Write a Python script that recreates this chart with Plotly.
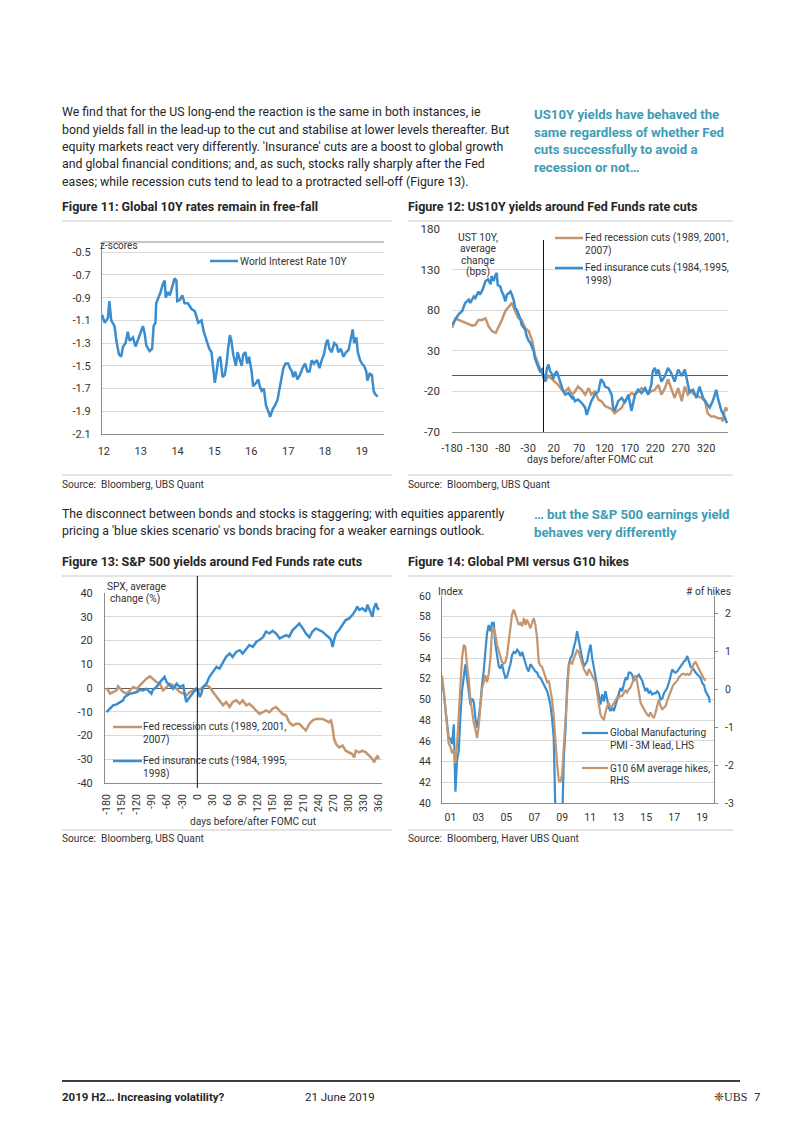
import plotly.graph_objects as go

W, H = 802, 1133
OFF = 8  # page body margin in the rendered html


def X(p):
    return (p - OFF) / W


def Y(p):
    return 1 - (p - OFF) / H


FONT = "Roboto, Liberation Sans, sans-serif"
BLUE = "#3A8DCF"
BROWN = "#C39670"
TEAL = "#3E9CB6"
TXT = "#262626"
TICK = "#333333"
GRID = "#D9D9D9"
AXIS = "#8C8C8C"
ZERO = "#5A5A5A"

# ---------------- Figure 11 data: World Interest Rate 10Y (z-scores) ----------------
f11_year = [2011.95, 2012.02, 2012.11, 2012.15, 2012.20, 2012.29, 2012.34, 2012.41, 2012.47, 2012.52,
            2012.59, 2012.65, 2012.70, 2012.79, 2012.86, 2012.92, 2013.02, 2013.06, 2013.11, 2013.15,
            2013.24, 2013.31, 2013.35, 2013.40, 2013.42, 2013.49, 2013.54, 2013.60, 2013.65, 2013.68,
            2013.74, 2013.79, 2013.88, 2013.92, 2013.97, 2013.99, 2014.06, 2014.13, 2014.19, 2014.28,
            2014.38, 2014.47, 2014.56, 2014.65, 2014.71, 2014.78, 2014.86, 2014.92, 2014.96, 2015.01,
            2015.06, 2015.10, 2015.16, 2015.22, 2015.28, 2015.33, 2015.37, 2015.42, 2015.46, 2015.51,
            2015.58, 2015.63, 2015.69, 2015.74, 2015.78, 2015.84, 2015.89, 2015.94, 2016.01, 2016.05,
            2016.13, 2016.19, 2016.23, 2016.28, 2016.34, 2016.40, 2016.46, 2016.51, 2016.58, 2016.64,
            2016.71, 2016.76, 2016.82, 2016.87, 2016.93, 2017.00, 2017.05, 2017.10, 2017.14, 2017.19,
            2017.25, 2017.32, 2017.39, 2017.46, 2017.52, 2017.58, 2017.64, 2017.70, 2017.78, 2017.85,
            2017.91, 2017.97, 2018.03, 2018.07, 2018.12, 2018.18, 2018.25, 2018.32, 2018.36, 2018.43,
            2018.50, 2018.57, 2018.64, 2018.68, 2018.73, 2018.75, 2018.79, 2018.85, 2018.89, 2018.95,
            2019.00, 2019.06, 2019.12, 2019.15, 2019.21, 2019.27, 2019.32, 2019.36, 2019.43]
f11_rate = [-1.05, -1.12, -1.08, -0.93, -1.10, -1.15, -1.28, -1.40, -1.42, -1.33,
            -1.30, -1.20, -1.28, -1.25, -1.33, -1.28, -1.20, -1.15, -1.22, -1.32,
            -1.37, -1.35, -1.15, -1.12, -0.95, -0.90, -0.85, -0.78, -0.75, -0.90,
            -0.85, -0.88, -0.78, -0.73, -0.75, -0.93, -0.92, -0.88, -0.95, -0.95,
            -1.00, -1.02, -1.12, -1.10, -1.20, -1.28, -1.35, -1.38, -1.50, -1.65,
            -1.55, -1.45, -1.42, -1.60, -1.58, -1.48, -1.35, -1.23, -1.28, -1.40,
            -1.50, -1.38, -1.45, -1.50, -1.40, -1.38, -1.48, -1.42, -1.55, -1.68,
            -1.65, -1.62, -1.68, -1.72, -1.70, -1.85, -1.90, -1.95, -1.88, -1.85,
            -1.80, -1.70, -1.60, -1.52, -1.48, -1.48, -1.52, -1.55, -1.60, -1.55,
            -1.62, -1.58, -1.52, -1.48, -1.55, -1.55, -1.45, -1.48, -1.45, -1.52,
            -1.45, -1.40, -1.30, -1.27, -1.35, -1.38, -1.30, -1.32, -1.38, -1.35,
            -1.42, -1.38, -1.36, -1.28, -1.22, -1.18, -1.30, -1.25, -1.38, -1.45,
            -1.48, -1.50, -1.55, -1.63, -1.57, -1.58, -1.72, -1.75, -1.77]
f11_xticks = [2012, 2013, 2014, 2015, 2016, 2017, 2018, 2019]
f11_xlabels = ["12", "13", "14", "15", "16", "17", "18", "19"]
f11_yticks = [-2.1, -1.9, -1.7, -1.5, -1.3, -1.1, -0.9, -0.7, -0.5]
f11_ylabels = ["-2.1", "-1.9", "-1.7", "-1.5", "-1.3", "-1.1", "-0.9", "-0.7", "-0.5"]

# ---------------- Figure 12 data: UST 10Y average change (bps) ----------------
f12_ins_day = [-180, -173, -167, -160, -157, -154, -147, -144, -137, -134, -128, -125, -120, -114, -109,
               -104, -102, -98, -94, -92, -90, -85, -82, -79, -75, -72, -68, -65, -62, -58, -56, -53,
               -49, -46, -43, -39, -36, -33, -29, -26, -22, -19, -17, -13, -10, -7, -3, 0, 3, 7, 10, 13,
               17, 19, 22, 26, 29, 33, 36, 39, 43, 49, 56, 58, 62, 68, 75, 82, 85, 89, 94, 101, 108, 113,
               118, 121, 128, 134, 137, 140, 147, 154, 160, 167, 173, 180, 186, 193, 200, 206, 212, 215,
               219, 222, 226, 232, 239, 245, 251, 258, 265, 272, 278, 283, 287, 294, 301, 307, 314, 320,
               327, 333, 340, 343, 350, 356, 361]
f12_ins_bps = [62, 70, 75, 79, 83, 89, 93, 89, 97, 95, 103, 99, 105, 116, 118,
               112, 122, 116, 124, 126, 111, 109, 103, 99, 91, 99, 101, 103, 99, 91, 83, 81,
               75, 70, 62, 58, 56, 48, 42, 40, 33, 29, 21, 15, 9, 5, 7, 1, -8, 9, 13, 5,
               1, -5, 1, 5, -1, -8, -14, -20, -24, -22, -28, -26, -32, -30, -34, -40, -49, -40, -32, -24, -20, -5,
               -9, -14, -16, -24, -40, -44, -32, -28, -34, -24, -44, -24, -18, -22, -16, -24, -12, 5,
               9, 1, 7, -8, -1, 9, 3, -8, 7, -1, 7, -8, -20, -18, -28, -14, -28, -34,
               -40, -32, -18, -28, -44, -51, -59]
f12_rec_day = [-180, -173, -167, -160, -154, -147, -140, -134, -128, -121, -114, -108, -101, -94, -89,
               -82, -75, -68, -62, -56, -49, -43, -36, -29, -22, -17, -10, -3, 0, 3, 10, 17, 22, 29, 36,
               43, 49, 56, 62, 68, 75, 82, 89, 94, 101, 108, 114, 121, 128, 134, 140, 147, 154, 160, 167,
               173, 180, 186, 193, 200, 206, 212, 219, 226, 232, 239, 245, 251, 258, 265, 272, 278, 284,
               291, 297, 304, 311, 318, 323, 330, 337, 343, 350, 353, 356, 359, 362]
f12_rec_bps = [58, 70, 68, 66, 64, 62, 61, 62, 68, 68, 70, 60, 54, 52, 58,
               68, 79, 85, 89, 79, 70, 68, 58, 54, 42, 25, 13, 1, -5, -8, -1, -5, -8, -12, -18,
               -20, -16, -24, -20, -14, -18, -24, -16, -24, -20, -30, -32, -38, -40, -42, -47, -44, -40, -32, -26,
               -22, -24, -20, -16, -18, -22, -20, -18, -12, -24, -16, -5, -16, -28, -16, -32, -14, -24,
               -20, -24, -26, -28, -32, -47, -51, -51, -53, -53, -57, -44, -40, -44]
f12_xticks = [-180, -130, -80, -30, 20, 70, 120, 170, 220, 270, 320]
f12_yticks = [-70, -20, 30, 80, 130, 180]

# ---------------- Figure 13 data: SPX average change (%) ----------------
f13_ins_day = [-180, -173, -167, -160, -153, -147, -144, -140, -134, -127, -120, -114, -107, -101, -94,
               -91, -88, -81, -74, -68, -65, -61, -55, -48, -41, -35, -28, -22, -15, -9, -2, 1, 5, 8, 11,
               18, 24, 31, 38, 44, 51, 57, 64, 70, 77, 84, 90, 97, 103, 110, 117, 123, 130, 136, 143, 149,
               156, 163, 169, 176, 182, 189, 196, 202, 209, 215, 222, 228, 235, 242, 248, 255, 261, 265,
               268, 271, 275, 281, 288, 294, 301, 307, 314, 317, 321, 327, 334, 337, 340, 347, 350, 354,
               357, 360]
f13_ins_pct = [-10.2, -8.7, -7.3, -6.9, -5.9, -5.2, -3.8, -3.1, -2.4, -2.1, -1.7, -0.7, -1.0, -0.3, -1.7,
               -2.4, -0.7, 0.4, 2.5, 3.9, 4.7, 2.5, 1.1, -0.3, 1.8, 0.4, 1.1, -5.9, -3.8, -2.4, -0.3, -1.0, -3.8, -2.4, 0.4,
               1.8, 4.7, 6.8, 8.9, 8.2, 11.0, 13.1, 14.5, 13.1, 15.2, 15.9, 14.5, 16.6, 18.1, 17.3, 19.5, 20.2, 21.3, 23.7, 23.0, 24.1,
               23.0, 20.9, 21.6, 22.3, 21.6, 24.4, 25.8, 27.2, 25.1, 23.0, 21.3, 23.7, 25.1, 24.4, 23.7, 22.3, 21.3, 20.2,
               17.3, 20.2, 23.0, 24.4, 26.5, 28.6, 29.3, 30.7, 32.9, 34.3, 32.9, 33.6, 32.2, 35.0, 33.6, 30.0, 33.6, 35.7,
               33.6, 32.9]
f13_rec_day = [-180, -173, -167, -160, -157, -153, -147, -140, -134, -127, -120, -114, -107, -101, -94,
               -88, -81, -74, -68, -61, -55, -48, -41, -35, -28, -22, -15, -9, -2, 5, 11, 18, 24, 31, 38,
               44, 51, 57, 64, 70, 77, 84, 90, 97, 103, 110, 117, 123, 130, 136, 143, 149, 156, 163, 169,
               176, 182, 189, 196, 202, 209, 215, 222, 228, 235, 242, 248, 255, 261, 265, 268, 271, 275,
               281, 288, 294, 301, 307, 311, 314, 321, 327, 334, 340, 347, 350, 354, 357, 360]
f13_rec_pct = [0.0, -2.4, -1.7, -1.0, 0.7, -0.3, -1.7, -2.4, -1.0, 0.4, -0.3, 1.1, 2.5, 3.9, 4.9,
               3.9, 2.5, 1.8, -1.0, 0.4, 1.8, 1.1, -0.3, -1.7, -2.4, -3.1, -1.7, -1.0, -0.3, -0.7, 0.4, 1.1, 0.4, -1.7, -3.8,
               -5.2, -7.3, -5.9, -8.0, -5.9, -5.2, -6.6, -5.2, -7.3, -6.6, -8.0, -9.4, -10.9, -10.2, -9.4, -10.2, -8.7, -8.0, -9.4, -10.9,
               -11.6, -14.4, -15.8, -15.1, -15.1, -16.5, -17.9, -15.1, -13.7, -13.0, -13.0, -13.0, -13.7, -14.4, -13.7, -16.5, -21.4, -23.6,
               -25.0, -24.3, -26.4, -27.1, -27.8, -29.2, -26.4, -27.1, -26.4, -27.1, -28.5, -29.9, -31.3, -29.9, -28.5, -29.9]
f13_xticks = list(range(-180, 361, 30))
f13_yticks = [-40, -30, -20, -10, 0, 10, 20, 30, 40]

# ---------------- Figure 14 data: Global PMI vs G10 hikes ----------------
f14_year = [2000.40, 2000.52, 2000.64, 2000.76, 2000.88, 2001.00, 2001.12, 2001.24, 2001.36, 2001.47,
            2001.59, 2001.71, 2001.83, 2001.95, 2002.07, 2002.19, 2002.31, 2002.43, 2002.55, 2002.67,
            2002.79, 2002.91, 2003.02, 2003.14, 2003.26, 2003.38, 2003.50, 2003.62, 2003.74, 2003.86,
            2003.98, 2004.10, 2004.22, 2004.34, 2004.46, 2004.58, 2004.69, 2004.81, 2004.93, 2005.05,
            2005.17, 2005.29, 2005.41, 2005.53, 2005.65, 2005.77, 2005.89, 2006.01, 2006.13, 2006.25,
            2006.37, 2006.48, 2006.60, 2006.72, 2006.84, 2006.96, 2007.08, 2007.20, 2007.32, 2007.44,
            2007.56, 2007.68, 2007.80, 2007.92, 2008.04, 2008.15, 2008.27, 2008.39, 2008.51, 2008.63,
            2008.75, 2008.87, 2008.99, 2009.11, 2009.23, 2009.35, 2009.47, 2009.59, 2009.71, 2009.82,
            2009.94, 2010.06, 2010.18, 2010.30, 2010.42, 2010.54, 2010.66, 2010.78, 2010.90, 2011.02,
            2011.14, 2011.26, 2011.38, 2011.49, 2011.61, 2011.73, 2011.85, 2011.97, 2012.09, 2012.21,
            2012.33, 2012.45, 2012.57, 2012.69, 2012.81, 2012.93, 2013.05, 2013.16, 2013.28, 2013.40,
            2013.52, 2013.64, 2013.76, 2013.88, 2014.00, 2014.12, 2014.24, 2014.36, 2014.48, 2014.60,
            2014.72, 2014.83, 2014.95, 2015.07, 2015.19, 2015.31, 2015.43, 2015.55, 2015.67, 2015.79,
            2015.91, 2016.03, 2016.15, 2016.27, 2016.39, 2016.50, 2016.62, 2016.74, 2016.86, 2016.98,
            2017.10, 2017.22, 2017.34, 2017.46, 2017.58, 2017.70, 2017.82, 2017.94, 2018.05, 2018.17,
            2018.29, 2018.41, 2018.53, 2018.65, 2018.77, 2018.89, 2019.01, 2019.13, 2019.25, 2019.37,
            2019.49, 2019.55]
f14_pmi = [51.5, 50.8, 49.2, 47.6, 46.3, 46.2, 45.7, 47.6, 41.1, 44.0,
           45.0, 48.2, 50.8, 52.1, 53.4, 52.1, 50.8, 49.5, 50.1, 49.8,
           48.2, 47.3, 48.2, 49.5, 51.4, 52.7, 54.6, 56.4, 57.2, 56.6,
           57.4, 57.4, 55.3, 54.0, 53.2, 53.0, 53.4, 52.7, 52.1, 52.2,
           52.7, 53.4, 54.3, 54.6, 54.5, 54.8, 54.6, 54.2, 54.6, 54.0,
           53.4, 53.0, 52.7, 53.4, 53.2, 52.9, 52.7, 52.6, 52.2, 52.1,
           51.8, 51.4, 51.1, 50.8, 50.2, 49.5, 48.2, 46.3, 39.0, 36.0,
           34.5, 35.0, 38.0, 44.4, 47.0, 51.4, 53.4, 54.0, 54.3, 55.0,
           55.6, 56.6, 55.6, 54.6, 54.0, 53.2, 53.4, 53.7, 54.6, 55.3,
           54.0, 53.0, 52.1, 51.4, 50.5, 49.5, 50.5, 49.8, 50.8, 49.8,
           49.2, 48.9, 49.2, 48.9, 49.5, 50.1, 50.8, 51.1, 50.8, 51.6,
           52.1, 51.9, 52.6, 52.6, 52.4, 51.8, 52.1, 52.2, 52.4, 52.1,
           51.8, 51.3, 50.8, 51.1, 50.6, 50.8, 50.5, 50.6, 50.6, 50.8,
           50.6, 50.0, 50.1, 50.6, 50.8, 51.1, 51.6, 52.4, 52.9, 52.7,
           52.6, 52.7, 53.0, 53.2, 53.4, 53.7, 53.8, 54.2, 53.7, 53.2,
           53.0, 52.9, 52.6, 52.4, 52.2, 52.1, 51.6, 51.4, 50.8, 50.5,
           50.2, 49.7]
f14_hikes = [0.36, 0.00, -0.53, -1.07, -1.43, -1.52, -1.69, -1.60, -1.96, -1.50,
             -0.71, 0.09, 0.80, 1.16, 1.11, 0.62, 0.27, -0.27, -0.62, -0.89,
             -1.07, -1.29, -0.98, -0.45, 0.00, 0.18, 0.36, 0.18, 0.40, 0.80,
             1.52, 1.60, 1.43, 1.16, 0.98, 0.80, 0.71, 0.67, 0.71, 0.89,
             1.25, 1.69, 1.96, 2.09, 1.96, 1.87, 1.69, 1.74, 1.65, 1.87,
             1.69, 1.83, 1.69, 1.60, 1.74, 1.87, 1.69, 1.34, 0.71, 0.62,
             0.58, 0.45, 0.36, 0.18, 0.22, 0.00, -0.27, -0.71, -1.43, -1.96,
             -2.41, -2.45, -2.23, -1.52, -0.71, 0.00, 0.62, 0.71, 0.67, 0.80,
             0.89, 1.02, 0.98, 0.80, 0.67, 0.53, 0.45, 0.36, 0.53, 0.45,
             0.36, 0.27, 0.18, -0.09, -0.45, -0.67, -0.76, -0.80, -0.62, -0.45,
             -0.36, -0.49, -0.45, -0.36, -0.31, -0.22, -0.22, -0.18, -0.18, -0.09,
             -0.04, -0.09, 0.00, 0.04, 0.18, 0.27, 0.36, 0.18, -0.09, -0.36,
             -0.45, -0.53, -0.62, -0.67, -0.71, -0.62, -0.71, -0.76, -0.62, -0.45,
             -0.27, -0.45, -0.53, -0.49, -0.45, -0.31, -0.18, -0.04, 0.04, 0.13,
             0.18, 0.22, 0.31, 0.36, 0.40, 0.40, 0.37, 0.40, 0.37, 0.40,
             0.53, 0.67, 0.71, 0.62, 0.53, 0.45, 0.36, 0.27, 0.22]
f14_xticks = [2001, 2003, 2005, 2007, 2009, 2011, 2013, 2015, 2017, 2019]
f14_xlabels = ["01", "03", "05", "07", "09", "11", "13", "15", "17", "19"]
f14_lticks = [40, 42, 44, 46, 48, 50, 52, 54, 56, 58, 60]
f14_rticks = [-3, -2, -1, 0, 1, 2]
f14_rlabels = ["-3", "-2", "-1", "0", "1", "2"]

# ---------------- text ----------------
para1 = ["We find that for the US long-end the reaction is the same in both instances, ie",
         "bond yields fall in the lead-up to the cut and stabilise at lower levels thereafter. But",
         "equity markets react very differently. 'Insurance' cuts are a boost to global growth",
         "and global financial conditions; and, as such, stocks rally sharply after the Fed",
         "eases; while recession cuts tend to lead to a protracted sell-off (Figure 13)."]
side1 = ["US10Y yields have behaved the", "same regardless of whether Fed",
         "cuts successfully to avoid a", "recession or not…"]
para2 = ["The disconnect between bonds and stocks is staggering; with equities apparently",
         "pricing a 'blue skies scenario' vs bonds bracing for a weaker earnings outlook."]
side2 = ["… but the S&P 500 earnings yield", "behaves very differently"]

fig = go.Figure()
fig.add_trace(go.Scatter(x=f11_year, y=f11_rate, xaxis="x", yaxis="y", mode="lines",
                         line=dict(color=BLUE, width=2.5), name="World Interest Rate 10Y"))
fig.add_trace(go.Scatter(x=f12_rec_day, y=f12_rec_bps, xaxis="x2", yaxis="y2", mode="lines",
                         line=dict(color=BROWN, width=2.5), name="Fed recession cuts"))
fig.add_trace(go.Scatter(x=f12_ins_day, y=f12_ins_bps, xaxis="x2", yaxis="y2", mode="lines",
                         line=dict(color=BLUE, width=2.5), name="Fed insurance cuts"))
fig.add_trace(go.Scatter(x=f13_rec_day, y=f13_rec_pct, xaxis="x3", yaxis="y3", mode="lines",
                         line=dict(color=BROWN, width=2.5), name="Fed recession cuts"))
fig.add_trace(go.Scatter(x=f13_ins_day, y=f13_ins_pct, xaxis="x3", yaxis="y3", mode="lines",
                         line=dict(color=BLUE, width=2.5), name="Fed insurance cuts"))
fig.add_trace(go.Scatter(x=f14_year, y=f14_pmi, xaxis="x4", yaxis="y4", mode="lines",
                         line=dict(color=BLUE, width=2.2), name="Global Manufacturing PMI"))
fig.add_trace(go.Scatter(x=f14_year[:len(f14_hikes)], y=f14_hikes, xaxis="x4", yaxis="y5", mode="lines",
                         line=dict(color=BROWN, width=2.2), name="G10 6M average hikes"))

ann = []
shapes = []


def T(x, y, s, size=10, color=TXT, bold=False, xa="left"):
    ann.append(dict(x=X(x), y=Y(y), xref="paper", yref="paper",
                    text=("<b>%s</b>" % s) if bold else s, showarrow=False,
                    xanchor=xa, yanchor="middle", borderpad=0, borderwidth=0,
                    font=dict(family=FONT, size=size, color=color)))


def L(x0, y0, x1, y1, color, width=1):
    shapes.append(dict(type="line", xref="paper", yref="paper", x0=X(x0), y0=Y(y0),
                       x1=X(x1), y1=Y(y1), line=dict(color=color, width=width)))


# body text
for i, s in enumerate(para1):
    T(62, [112, 129.5, 147, 164.5, 182][i], s, size=12.3, color=TXT)
for i, s in enumerate(side1):
    T(534, [115, 132, 149.5, 167][i], s, size=13.2, color=TEAL, bold=True)
for i, s in enumerate(para2):
    T(62, [514, 531][i], s, size=12.3, color=TXT)
for i, s in enumerate(side2):
    T(534, [514, 532][i], s, size=13.2, color=TEAL, bold=True)

# titles and separators
T(62, 206, "Figure 11: Global 10Y rates remain in free-fall", size=12.5, bold=True)
T(408, 206, "Figure 12: US10Y yields around Fed Funds rate cuts", size=12.5, bold=True)
T(62, 561, "Figure 13: S&P 500 yields around Fed Funds rate cuts", size=12.5, bold=True)
T(408, 561, "Figure 14: Global PMI versus G10 hikes", size=12.5, bold=True)
for (a, b) in [(62, 392), (408, 733)]:
    L(a, 221, b, 221, "#C8C8C8", 1)
    L(a, 475, b, 475, "#C8C8C8", 1)
    L(a, 576, b, 576, "#C8C8C8", 1)
    L(a, 830, b, 830, "#C8C8C8", 1)
SRC = "Source:\u00a0 Bloomberg, UBS Quant"
T(62, 484, SRC, size=10.2, color=TICK)
T(408, 484, SRC, size=10.2, color=TICK)
T(62, 839, SRC, size=10.2, color=TICK)
T(408, 839, "Source:\u00a0 Bloomberg, Haver UBS Quant", size=10.2, color=TICK)

# chart 11 extras
T(100, 246, "z-scores", size=10, color=TICK)
L(210, 261, 238, 261, BLUE, 2.5)
T(240, 261, "World Interest Rate 10Y", size=10.2, color=TICK)
shapes.append(dict(type="line", xref="x domain", yref="y domain", x0=0, x1=1, y0=1, y1=1,
                   line=dict(color=AXIS, width=1)))

# chart 12 extras
for i, s in enumerate(["UST 10Y,", "average", "change", "(bps)"]):
    T(478, [237, 248.5, 260, 271.5][i], s, size=10.3, color=TICK, xa="center")
L(555, 238, 583, 238, BROWN, 2.5)
T(585, 238, "Fed recession cuts (1989, 2001,", size=10.2, color=TICK)
T(585, 251, "2007)", size=10.2, color=TICK)
L(555, 268, 583, 268, BLUE, 2.5)
T(585, 268, "Fed insurance cuts (1984, 1995,", size=10.2, color=TICK)
T(585, 281, "1998)", size=10.2, color=TICK)
T(590, 460, "days before/after FOMC cut", size=10.2, color=TICK, xa="center")
shapes.append(dict(type="line", xref="x2", yref="paper", x0=0, x1=0, y0=Y(432), y1=Y(240),
                   line=dict(color="#111111", width=1)))

# chart 13 extras
T(107, 586, "SPX, average", size=10.2, color=TICK)
T(110, 599, "change (%)", size=10.2, color=TICK)
L(113, 727, 142, 727, BROWN, 2.5)
T(143, 727, "Fed recession cuts (1989, 2001,", size=10.2, color=TICK)
T(143, 739.5, "2007)", size=10.2, color=TICK)
L(113, 761, 142, 761, BLUE, 2.5)
T(143, 761, "Fed insurance cuts (1984, 1995,", size=10.2, color=TICK)
T(143, 773.5, "1998)", size=10.2, color=TICK)
T(253, 821, "days before/after FOMC cut", size=10.2, color=TICK, xa="center")
shapes.append(dict(type="line", xref="x3", yref="paper", x0=0, x1=0, y0=Y(788), y1=Y(576),
                   line=dict(color="#111111", width=1)))

# chart 14 extras
T(438, 591, "Index", size=10.3, color=TICK)
T(731, 591, "# of hikes", size=10.3, color=TICK, xa="right")
L(582, 733, 608, 733, BLUE, 2.2)
T(610, 733, "Global Manufacturing", size=10, color=TICK)
T(610, 745, "PMI - 3M lead, LHS", size=10, color=TICK)
L(582, 768, 608, 768, BROWN, 2.2)
T(610, 768, "G10 6M average hikes,", size=10, color=TICK)
T(610, 780, "RHS", size=10, color=TICK)

# footer
L(62, 1081, 740, 1081, "#3F3F3F", 2)
T(62, 1097, "2019 H2… Increasing volatility?", size=11.5, bold=True)
T(305, 1097, "21 June 2019", size=11.5, color=TXT)
ann.append(dict(x=X(748), y=Y(1097), xref="paper", yref="paper", text="❈UBS", showarrow=False,
                xanchor="right", yanchor="middle", borderpad=0,
                font=dict(family="Liberation Serif, DejaVu Serif, serif", size=12, color=TXT)))
T(757, 1097, "7", size=11.5, color=TXT, xa="center")


def tf(sz):
    return dict(family=FONT, size=sz, color=TICK)


fig.update_layout(
    template="none",
    width=W, height=H, margin=dict(l=0, r=0, t=0, b=0, pad=0, autoexpand=False),
    paper_bgcolor="white", plot_bgcolor="rgba(0,0,0,0)", showlegend=False,
    annotations=ann, shapes=shapes,
    # chart 11
    xaxis=dict(domain=[X(102), X(384)], anchor="y", range=[2011.95, 2019.6], automargin=False,
               tickmode="array", tickvals=f11_xticks, ticktext=f11_xlabels, tickangle=0,
               showgrid=False, zeroline=False, showline=True, linecolor=AXIS, ticks="",
               tickfont=tf(11), ticklabelstandoff=7),
    yaxis=dict(domain=[Y(434), Y(242)], anchor="x", range=[-2.1, -0.41], automargin=False,
               tickmode="array", tickvals=f11_yticks, ticktext=f11_ylabels,
               showgrid=True, gridcolor=GRID, zeroline=False, showline=True, linecolor=AXIS,
               ticks="", tickfont=tf(11), ticklabelstandoff=8),
    # chart 12
    xaxis2=dict(domain=[X(452), X(728)], anchor="y2", range=[-180, 363], automargin=False,
                tickmode="array", tickvals=f12_xticks, ticktext=[str(v) for v in f12_xticks],
                tickangle=0, showgrid=False, zeroline=False, showline=True, linecolor=AXIS,
                ticks="", tickfont=tf(11), ticklabelstandoff=6),
    yaxis2=dict(domain=[Y(432), Y(229)], anchor="x2", range=[-70, 180], automargin=False,
                tickmode="array", tickvals=f12_yticks, ticktext=[str(v) for v in f12_yticks],
                showgrid=True, gridcolor=GRID, zeroline=True, zerolinecolor=ZERO, zerolinewidth=1,
                showline=False, ticks="", tickfont=tf(11.5), ticklabelstandoff=11),
    # chart 13
    xaxis3=dict(domain=[X(105), X(382)], anchor="y3", range=[-183, 366], automargin=False,
                tickmode="array", tickvals=f13_xticks, ticktext=[str(v) for v in f13_xticks],
                tickangle=-90, showgrid=False, zeroline=False, showline=True, linecolor=AXIS,
                ticks="", tickfont=tf(10.5), ticklabelstandoff=6),
    yaxis3=dict(domain=[Y(783), Y(593)], anchor="x3", range=[-40, 40], automargin=False,
                tickmode="array", tickvals=f13_yticks, ticktext=[str(v) for v in f13_yticks],
                showgrid=True, gridcolor=GRID, zeroline=True, zerolinecolor=ZERO, zerolinewidth=1,
                showline=True, linecolor=AXIS, ticks="", tickfont=tf(11), ticklabelstandoff=9),
    # chart 14
    xaxis4=dict(domain=[X(442), X(714)], anchor="y4", range=[2000.40, 2019.85], automargin=False,
                tickmode="array", tickvals=f14_xticks, ticktext=f14_xlabels, tickangle=0,
                showgrid=False, zeroline=False, showline=True, linecolor=AXIS, ticks="",
                tickfont=tf(10.5), ticklabelstandoff=4),
    yaxis4=dict(domain=[Y(803), Y(596)], anchor="x4", range=[40, 60], automargin=False,
                tickmode="array", tickvals=f14_lticks, ticktext=[str(v) for v in f14_lticks],
                showgrid=True, gridcolor=GRID, zeroline=False, showline=True, linecolor=AXIS,
                ticks="", tickfont=tf(10.5), ticklabelstandoff=8),
    yaxis5=dict(overlaying="y4", side="right", anchor="x4", range=[-3, 2.45], automargin=False,
                tickmode="array", tickvals=f14_rticks, ticktext=f14_rlabels,
                showgrid=False, zeroline=False, showline=True, linecolor=AXIS,
                ticks="outside", ticklen=3, tickcolor=AXIS, tickfont=tf(10.5), ticklabelstandoff=5),
)

fig.write_html("out.html")
